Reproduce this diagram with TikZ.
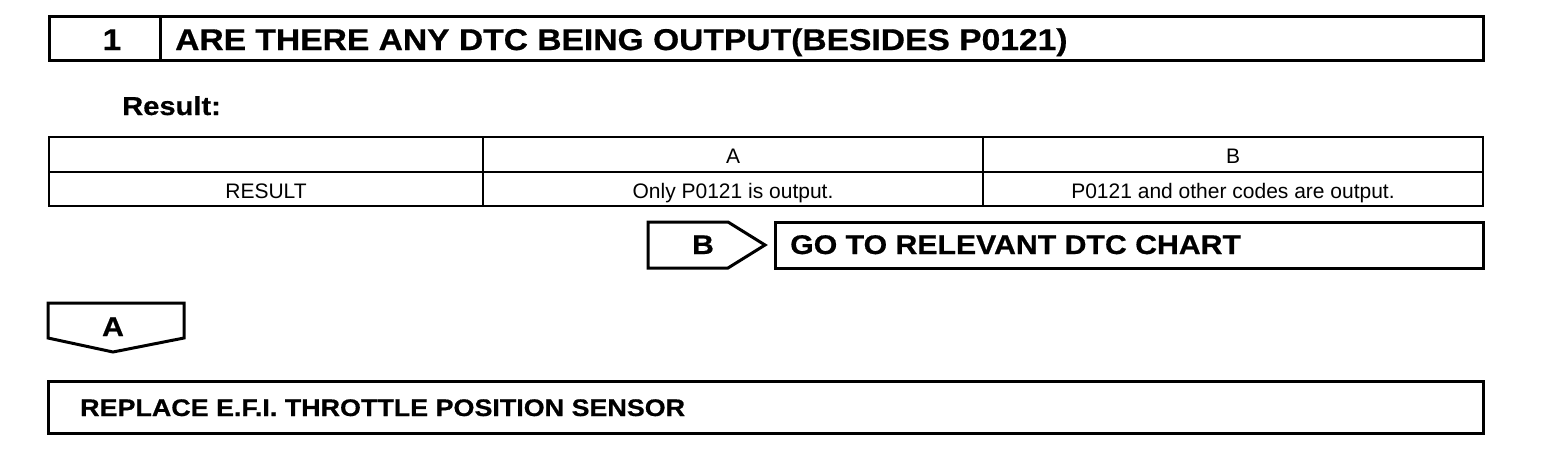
\documentclass[tikz,border=0pt]{standalone}
\usepackage{fontspec}
\setmainfont{Liberation Sans}
\newfontfamily\hb[FakeStretch=1.12,FakeBold=0.6]{Liberation Sans}
\begin{document}
\begin{tikzpicture}[x=1pt,y=-1pt,
  box/.style={draw, line width=3pt, inner sep=0pt, outer sep=0pt},
  tline/.style={line width=2.5pt},
  head/.style={font=\hb\bfseries\fontsize{30}{30}\selectfont, inner sep=0pt},
  cell/.style={font=\fontsize{21}{21}\selectfont, inner sep=0pt, anchor=base}]
\useasboundingbox (0,0) rectangle (1568,450);
% title row
\node[box, anchor=north west, minimum width=111pt, minimum height=44pt] (numcell) at (49,16) {};
\node[box, anchor=north west, minimum width=1323pt, minimum height=44pt] (titlecell) at (160,16) {};
\node[head, anchor=base] (num) at (112,50) {1};
\node[head, anchor=base west] (title) at (175,50) {ARE THERE ANY DTC BEING OUTPUT(BESIDES P0121)};
% result label
\node[head, font=\hb\bfseries\fontsize{26}{26}\selectfont, anchor=base west] (result) at (122,115) {Result:};
% table
\draw[tline] (49,137) rectangle (1483,206);
\draw[tline] (49,172) -- (1483,172);
\draw[tline] (483,137) -- (483,206);
\draw[tline] (983,137) -- (983,206);
\node[cell] (ha) at (733,163) {A};
\node[cell] (hb) at (1233,163) {B};
\node[cell] (rres) at (266,198) {RESULT};
\node[cell] (ra) at (733,198) {Only P0121 is output.};
\node[cell] (rb) at (1233,198) {P0121 and other codes are output.};
% B branch
\draw[box, line join=miter] (648,222) coordinate (bnw) -- (728,222) -- (765,245) coordinate (btip) -- (728,268) -- (648,268) -- cycle;
\node[head, font=\hb\bfseries\fontsize{27}{27}\selectfont, anchor=base] (blab) at (703,254) {B};
\node[box, anchor=north west, minimum width=708pt, minimum height=46pt] (gocell) at (775,222) {};
\node[head, font=\hb\bfseries\fontsize{27}{27}\selectfont, anchor=base west] (go) at (790,254) {GO TO RELEVANT DTC CHART};
% A branch
\draw[box, line join=miter] (48,303) -- (184,303) -- (184,338) -- (113,352) coordinate (atip) -- (48,338) -- cycle;
\node[head, font=\hb\bfseries\fontsize{27}{27}\selectfont, anchor=base] (alab) at (113,336) {A};
% replace
\node[box, anchor=north west, minimum width=1435pt, minimum height=52pt] (repcell) at (48,381) {};
\node[head, font=\hb\bfseries\fontsize{24}{24}\selectfont, anchor=base west] (rep) at (80,416) {REPLACE E.F.I. THROTTLE POSITION SENSOR};
\end{tikzpicture}
\end{document}
